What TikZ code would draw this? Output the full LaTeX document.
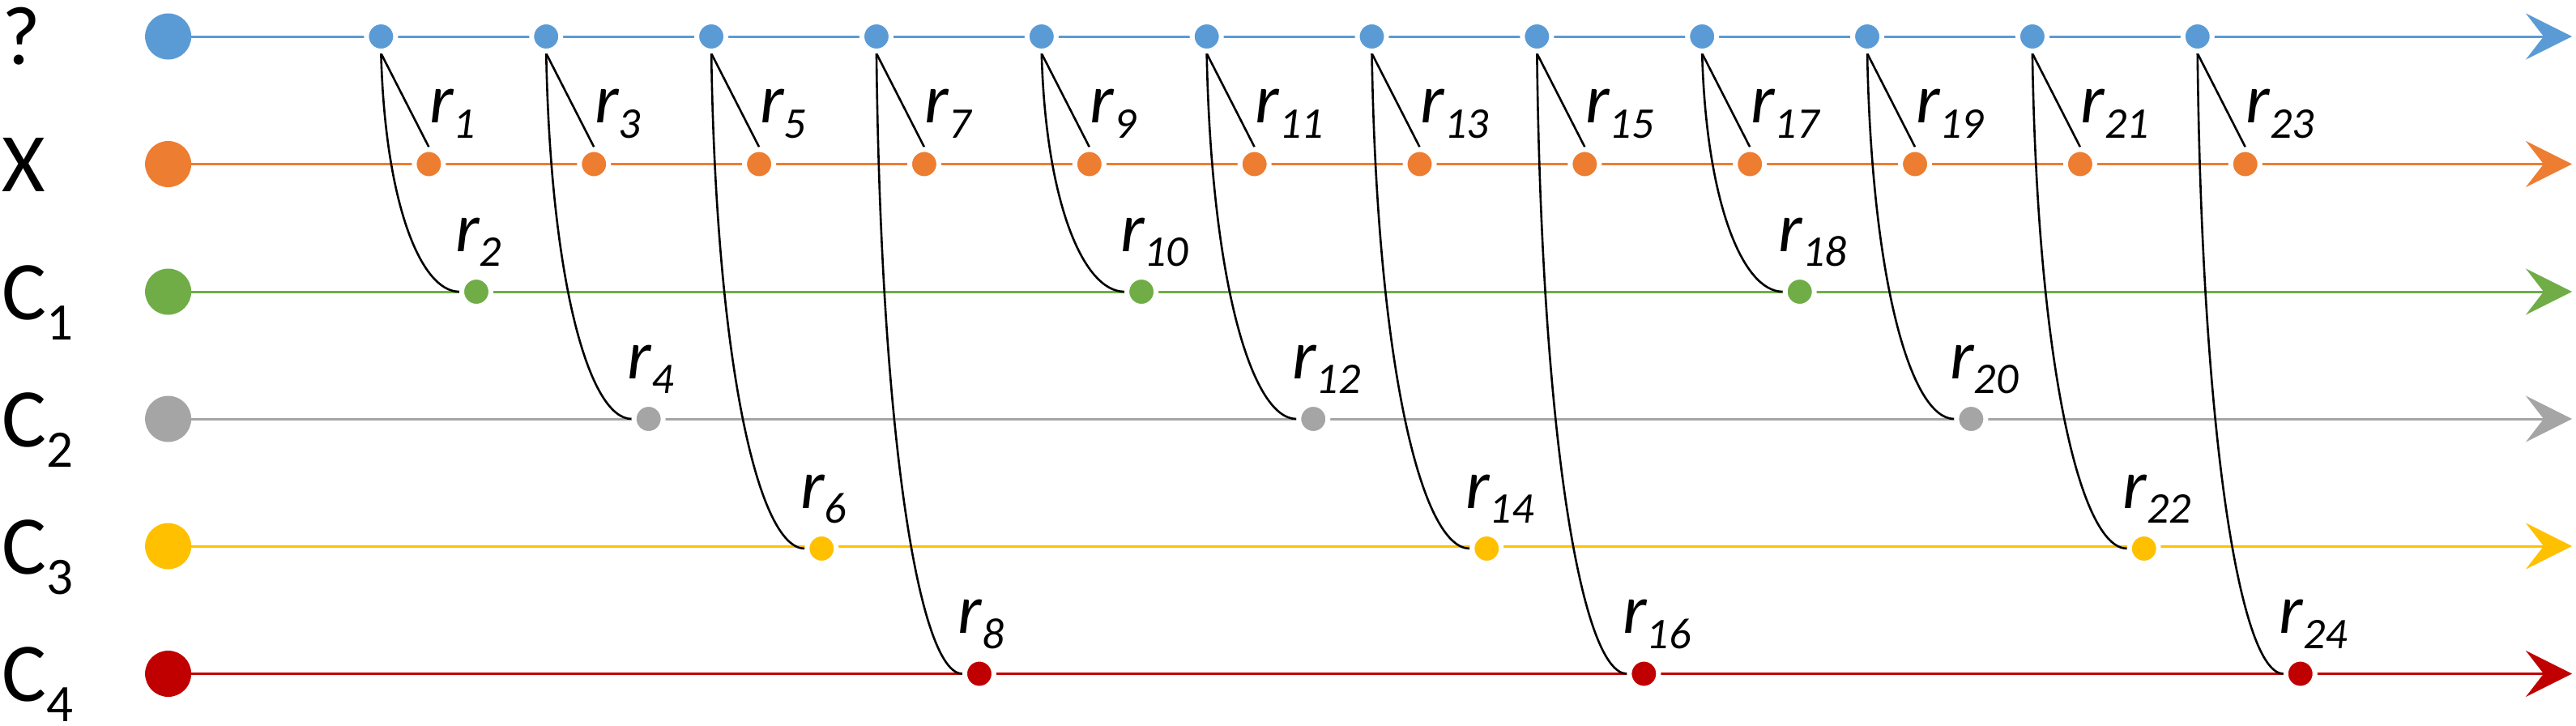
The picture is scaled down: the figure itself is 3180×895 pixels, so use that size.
\documentclass[tikz,border=0pt]{standalone}
\usepackage{fontspec}
\setmainfont{Carlito}
\usetikzlibrary{arrows.meta,calc}
\pgfdeclarelayer{background}
\pgfsetlayers{background,main}
\definecolor{cQ}{HTML}{5B9BD5}
\definecolor{cX}{HTML}{ED7D31}
\definecolor{cA}{HTML}{70AD47}
\definecolor{cB}{HTML}{A5A5A5}
\definecolor{cC}{HTML}{FFC000}
\definecolor{cD}{HTML}{C00000}
\newcommand{\rtxt}[1]{\fontsize{43pt}{43pt}\selectfont\itshape r\raisebox{-9.25pt}{\fontsize{27pt}{27pt}\selectfont #1}}
\newcommand{\lanesub}[1]{\raisebox{-12.5pt}{\fontsize{32.5pt}{33pt}\selectfont #1}}
\tikzset{
  evt/.style={circle, fill=#1, draw=white, line width=3pt, minimum size=18pt, inner sep=0pt},
  bigdot/.style={circle, fill=#1, minimum size=28.5pt, inner sep=0pt},
  lane/.style={draw=#1, line width=1.5pt, -{Stealth[length=28.5pt,width=28.5pt,inset=11pt,fill=#1]}},
  conn/.style={draw=black, line width=1.3pt},
  rlab/.style={anchor=base west, inner sep=0pt, outer sep=0pt},
  lanelab/.style={anchor=base west, inner sep=0pt, outer sep=0pt, font=\fontsize{51.5pt}{52pt}\selectfont},
}
\begin{document}
\begin{tikzpicture}[x=0.5pt,y=-0.5pt]
\useasboundingbox (0,0) rectangle (3180,895);
% lanes
\foreach \n/\y/\c in {1/45/cQ,2/202.5/cX,3/360/cA,4/517/cB,5/674/cC,6/831.5/cD} {
  \coordinate (E\n) at (3175,\y);
  \node[bigdot=\c] (L\n) at (207.6,\y) {};
  \begin{pgfonlayer}{background}
    \draw[lane=\c] (L\n.center) -- (E\n);
  \end{pgfonlayer}
}
% lane labels
\node[lanelab] (t1) at (3,79) {?};
\node[lanelab] (t2) at (3,236.5) {X};
\node[lanelab] (t3) at (3,394) {C\lanesub{1}};
\node[lanelab] (t4) at (3,551) {C\lanesub{2}};
\node[lanelab] (t5) at (3,708) {C\lanesub{3}};
\node[lanelab] (t6) at (3,865.5) {C\lanesub{4}};
% events
\foreach \i/\off/\cy/\col in {1/117.6/360/cA, 2/126.4/517/cB, 3/136.2/677/cC, 4/127/831.5/cD,
  5/123.3/360/cA, 6/131.6/517/cB, 7/141.8/677/cC, 8/132/831.5/cD,
  9/120.5/360/cA, 10/128.3/517/cB, 11/137.8/677/cC, 12/127/831.5/cD} {
  \pgfmathsetmacro\bx{470.4+(\i-1)*203.85}
  \pgfmathsetmacro\ox{\bx+59}
  \pgfmathsetmacro\cx{\bx+\off}
  \pgfmathtruncatemacro\na{2*\i-1}
  \pgfmathtruncatemacro\nb{2*\i}
  \node[evt=cQ] (b\i) at (\bx,45) {};
  \node[evt=cX] (o\i) at (\ox,202.5) {};
  \node[evt=\col] (c\i) at (\cx,\cy) {};
  \node[rlab] (lo\i) at (\ox+1,151.5) {\rtxt{\na}};
  \node[rlab] (lc\i) at (\cx-26,\cy-50) {\rtxt{\nb}};
  \pgfmathsetmacro\dx{\cx-21-\bx}
  \pgfmathsetmacro\dy{\cy-66}
  \pgfmathsetmacro\pax{\bx+0.05*\dx}
  \pgfmathsetmacro\pay{66+0.62*\dy}
  \pgfmathsetmacro\pbx{\cx-21-0.5*\dx}
  \begin{pgfonlayer}{background}
    \draw[conn] (b\i.south) -- (o\i.north);
    \draw[conn] (b\i.south) .. controls (\pax,\pay) and (\pbx,\cy) .. (c\i.west);
  \end{pgfonlayer}
}
\end{tikzpicture}
\end{document}
